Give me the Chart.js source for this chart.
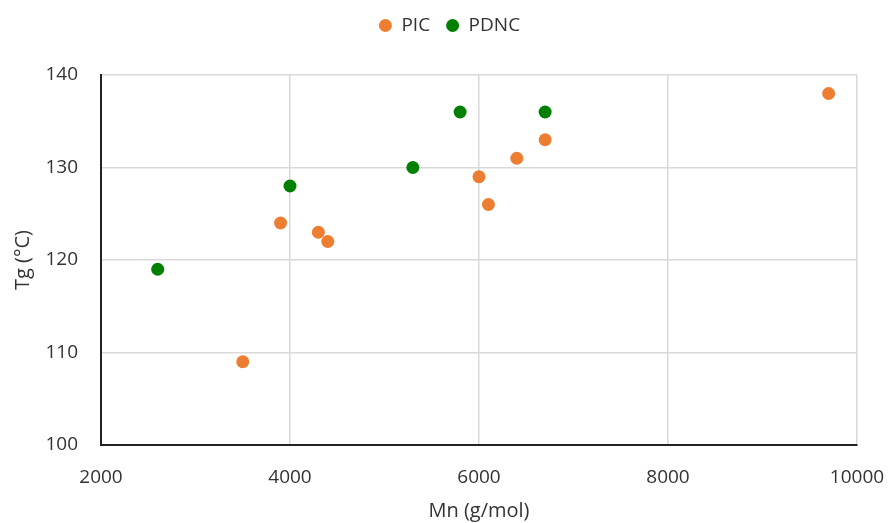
<!DOCTYPE html>
<html>
<head>
<meta charset="utf-8">
<script src="https://cdn.jsdelivr.net/npm/chart.js@4/dist/chart.umd.min.js"></script>
<style>
html,body{margin:0;padding:0;background:#fff;}
#wrap{width:888px;height:523px;position:relative;}
</style>
</head>
<body>
<div id="wrap"><canvas id="c" width="888" height="523"></canvas></div>
<script>
// Data
const picMn = [3500, 3900, 4300, 4400, 6000, 6100, 6400, 6700, 9700];
const picTg = [109, 124, 123, 122, 129, 126, 131, 133, 138];
const pdncMn = [2600, 4000, 5300, 5800, 6700];
const pdncTg = [119, 128, 130, 136, 136];
const seriesNames = ["PIC", "PDNC"];
const xTitle = "Mn (g/mol)";
const yTitle = "Tg (°C)";

const toPts = (xs, ys) => xs.map((x, i) => ({x: x, y: ys[i]}));
const FONT = "'Open Sans', 'Liberation Sans', sans-serif";
const TXT = '#333';

const legendSpace = {
  id: 'legendSpace',
  beforeLayout(chart) {
    const lg = chart.legend;
    if (lg && !lg._wrapped) {
      const orig = lg.fit.bind(lg);
      lg.fit = function() { orig(); this.height += 30; };
      lg._wrapped = true;
    }
  },
  afterLayout(chart) {
    const lg = chart.legend;
    if (lg) { lg.left += 21; lg.right += 21; }
  }
};

new Chart(document.getElementById('c'), {
  type: 'scatter',
  data: {
    datasets: [
      {label: seriesNames[0], data: toPts(picMn, picTg), backgroundColor: '#ED7D31', borderColor: '#ED7D31', pointRadius: 6.5, pointHoverRadius: 6.5, borderWidth: 0},
      {label: seriesNames[1], data: toPts(pdncMn, pdncTg), backgroundColor: '#008000', borderColor: '#008000', pointRadius: 6.5, pointHoverRadius: 6.5, borderWidth: 0}
    ]
  },
  options: {
    responsive: false,
    animation: false,
    layout: {padding: {left: 0, right: 31, top: 0, bottom: 0}},
    plugins: {
      tooltip: {enabled: false},
      legend: {
        position: 'top',
        labels: {
          usePointStyle: true,
          pointStyle: 'circle',
          pointStyleWidth: 13,
          boxHeight: 9.2,
          padding: 16,
          color: TXT,
          font: {family: FONT, size: 19}
        }
      }
    },
    scales: {
      x: {
        type: 'linear',
        min: 2000, max: 10000,
        ticks: {stepSize: 2000, color: TXT, font: {family: FONT, size: 19}, padding: 21, callback: v => String(v)},
        grid: {color: '#d9d9d9', lineWidth: 1.5, drawTicks: false},
        border: {color: '#222', width: 2},
        title: {display: true, text: xTitle, color: TXT, font: {family: FONT, size: 20}, padding: {top: 0, bottom: 0}},
        afterFit: (s) => { s.height = 78; s.paddingRight = 0; s.paddingLeft = 0; }
      },
      y: {
        type: 'linear',
        min: 100, max: 140,
        ticks: {stepSize: 10, color: TXT, font: {family: FONT, size: 19}, padding: 23, callback: v => String(v)},
        grid: {color: '#d9d9d9', lineWidth: 1.5, drawTicks: false},
        border: {color: '#222', width: 2},
        title: {display: true, text: yTitle, color: TXT, font: {family: FONT, size: 20}, padding: {top: 11, bottom: 0}},
        afterFit: (s) => { s.width = 101; }
      }
    }
  },
  plugins: [legendSpace]
});
</script>
</body>
</html>
